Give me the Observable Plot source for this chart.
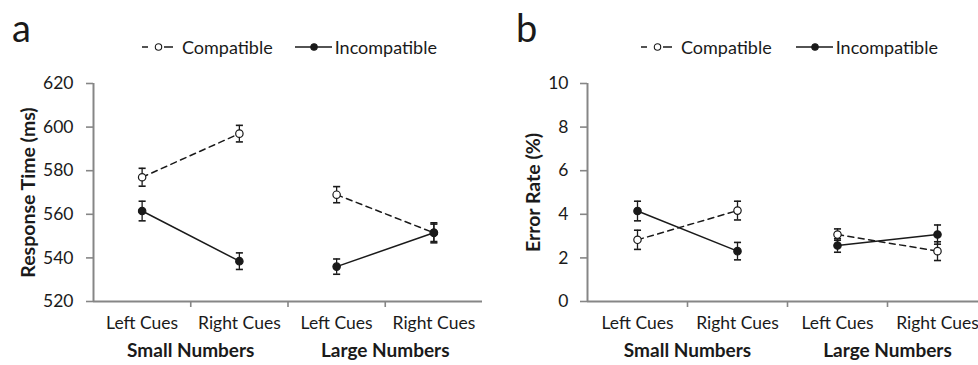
<!DOCTYPE html>
<html>
<head>
<meta charset="utf-8">
<script src="https://cdn.jsdelivr.net/npm/d3@7"></script>
<script src="https://cdn.jsdelivr.net/npm/@observablehq/plot@0.6"></script>
<style>
  html, body { margin: 0; padding: 0; background: #fff; overflow: hidden; }
  #wrap { position: relative; width: 978px; height: 365px; overflow: hidden; font-family: Lato, "Open Sans", sans-serif; color: #1a1a1a; }
  .panel { position: absolute; top: 0; }
  .panel svg { overflow: visible; max-width: none !important; display: block; }
  .plabel { position: absolute; font-size: 38px; line-height: 1; }
  .legend { position: absolute; top: 37px; height: 20px; display: flex; align-items: center; font-size: 18px; white-space: nowrap; }
  .legend .item { display: flex; align-items: center; }
  .legend svg { display: block; }
</style>
</head>
<body>
<div id="wrap"></div>
<script>
// ---- data ----
const categories = ["Left Cues", "Right Cues", "Left Cues", "Right Cues"];
const groups = ["Small Numbers", "Small Numbers", "Large Numbers", "Large Numbers"];
const groupLabels = ["Small Numbers", "Large Numbers"];
const seriesNames = ["Compatible", "Incompatible"];

const rtCompatible = [577, 597, 569, 551.5];
const rtCompatibleErr = [4.1, 3.8, 3.7, 4.0];
const rtIncompatible = [561.5, 538.5, 536, 551.5];
const rtIncompatibleErr = [4.5, 3.8, 3.5, 4.6];
const rtTicks = [520, 540, 560, 580, 600, 620];

const erCompatible = [2.83, 4.17, 3.07, 2.31];
const erCompatibleErr = [0.44, 0.43, 0.26, 0.43];
const erIncompatible = [4.15, 2.31, 2.57, 3.07];
const erIncompatibleErr = [0.45, 0.40, 0.31, 0.44];
const erTicks = [0, 2, 4, 6, 8, 10];

// ---- helpers ----
const AXIS = "#868686";
const INK = "#1a1a1a";
const FONT = "Lato, 'Open Sans', sans-serif";

const capSymbol = {
  draw(context, size) {
    const w = Math.sqrt(size) / 2;
    context.moveTo(-w, 0);
    context.lineTo(w, 0);
  }
};

function rows(comp, compErr, inc, incErr) {
  const out = [];
  categories.forEach((c, i) => {
    out.push({i, cat: c, group: groups[i], series: seriesNames[0], v: comp[i], e: compErr[i]});
    out.push({i, cat: c, group: groups[i], series: seriesNames[1], v: inc[i], e: incErr[i]});
  });
  return out;
}

function panel({data, ticks, label, width, marginLeft, marginRight, labelDx, tickPadding}) {
  const n = categories.length;
  const idx = d3.range(n);
  const boundaries = d3.range(1, n).map(k => k - 0.5);
  const groupPos = groupLabels.map(g => d3.mean(idx.filter(j => groups[j] === g)));
  const lo = ticks[0], hi = ticks[ticks.length - 1];
  return Plot.plot({
    width,
    height: 365,
    marginTop: 83,
    marginBottom: 64,
    marginLeft,
    marginRight,
    style: {fontFamily: FONT, fontSize: "17px", color: INK, background: "transparent", overflow: "visible", maxWidth: "none"},
    x: {domain: [-0.5, n - 0.5], axis: null},
    y: {domain: [lo, hi], axis: null},
    marks: [
      // axis lines
      Plot.ruleY([lo], {stroke: AXIS, strokeWidth: 2}),
      Plot.ruleX([-0.5], {y1: lo, y2: hi, stroke: AXIS, strokeWidth: 2}),
      // y ticks & labels
      Plot.axisY({ticks, tickSize: 7, tickPadding, stroke: AXIS, strokeWidth: 1.6, fill: INK, fontSize: 17.5, label: null}),
      // x ticks at category boundaries
      Plot.axisX({ticks: boundaries, tickFormat: () => "", tickSize: 6, stroke: AXIS, strokeWidth: 1.6, label: null}),
      // category labels
      Plot.text(idx, {x: d => d, text: d => categories[d], frameAnchor: "bottom", dy: 27, fill: INK, fontSize: 17.5}),
      Plot.text(groupLabels, {x: (d, k) => groupPos[k], text: d => d, frameAnchor: "bottom", dy: 55, fill: INK, fontSize: 19, fontWeight: "bold"}),
      // y label
      Plot.text([label], {frameAnchor: "left", textAnchor: "middle", lineAnchor: "middle", dx: labelDx, rotate: -90, fill: INK, fontSize: 19.5, fontWeight: "bold", text: d => d}),
      // lines
      Plot.line(data.filter(d => d.series === seriesNames[0]), {x: "i", y: "v", z: "group", stroke: INK, strokeWidth: 1.5, strokeDasharray: "6,4.5"}),
      Plot.line(data.filter(d => d.series === seriesNames[1]), {x: "i", y: "v", z: "group", stroke: INK, strokeWidth: 1.5}),
      // error bars
      Plot.ruleX(data, {x: "i", y1: d => d.v - d.e, y2: d => d.v + d.e, stroke: INK, strokeWidth: 1.3}),
      Plot.dot(data, {x: "i", y: d => d.v - d.e, symbol: capSymbol, r: 4, stroke: INK, strokeWidth: 1.6, fill: "none"}),
      Plot.dot(data, {x: "i", y: d => d.v + d.e, symbol: capSymbol, r: 4, stroke: INK, strokeWidth: 1.6, fill: "none"}),
      // points
      Plot.dot(data, {x: "i", y: "v", r: 3.7, stroke: INK, strokeWidth: 1.2, fill: d => d.series === seriesNames[0] ? "#ffffff" : INK})
    ]
  });
}

function legend(left) {
  const el = document.createElement("div");
  el.className = "legend";
  el.style.left = left + "px";
  const dashed = `<svg width="32" height="12">` +
    `<line x1="0" y1="6" x2="6" y2="6" stroke="${INK}" stroke-width="1.5"/>` +
    `<line x1="22" y1="6" x2="31" y2="6" stroke="${INK}" stroke-width="1.5"/>` +
    `<circle cx="16.5" cy="6" r="3.2" fill="#fff" stroke="${INK}" stroke-width="1.1"/></svg>`;
  const solid = `<svg width="37" height="12">` +
    `<line x1="0" y1="6" x2="37" y2="6" stroke="${INK}" stroke-width="1.5"/>` +
    `<circle cx="19" cy="6" r="3.2" fill="${INK}" stroke="${INK}" stroke-width="1.1"/></svg>`;
  el.innerHTML =
    `<div class="item">${dashed}<span style="margin-left:8px">${seriesNames[0]}</span></div>` +
    `<div class="item" style="margin-left:${left > 500 ? 24 : 22}px">${solid}<span style="margin-left:3px">${seriesNames[1]}</span></div>`;
  return el;
}

const wrap = document.getElementById("wrap");

const pa = document.createElement("div");
pa.className = "panel";
pa.style.left = "0px";
pa.style.width = "489px";
pa.appendChild(panel({
  data: rows(rtCompatible, rtCompatibleErr, rtIncompatible, rtIncompatibleErr),
  ticks: rtTicks, label: "Response Time (ms)", width: 489,
  marginLeft: 93, marginRight: 7, labelDx: -65, tickPadding: 13
}));
wrap.appendChild(pa);

const pb = document.createElement("div");
pb.className = "panel";
pb.style.left = "489px";
pb.style.width = "500px";
pb.appendChild(panel({
  data: rows(erCompatible, erCompatibleErr, erIncompatible, erIncompatibleErr),
  ticks: erTicks, label: "Error Rate (%)", width: 500,
  marginLeft: 98, marginRight: 2, labelDx: -54, tickPadding: 12
}));
wrap.appendChild(pb);

const la = document.createElement("div");
la.className = "plabel"; la.textContent = "a"; la.style.left = "12px"; la.style.top = "8px";
wrap.appendChild(la);
const lb = document.createElement("div");
lb.className = "plabel"; lb.textContent = "b"; lb.style.left = "516px"; lb.style.top = "8px";
wrap.appendChild(lb);

wrap.appendChild(legend(142));
wrap.appendChild(legend(641));
</script>
</body>
</html>
